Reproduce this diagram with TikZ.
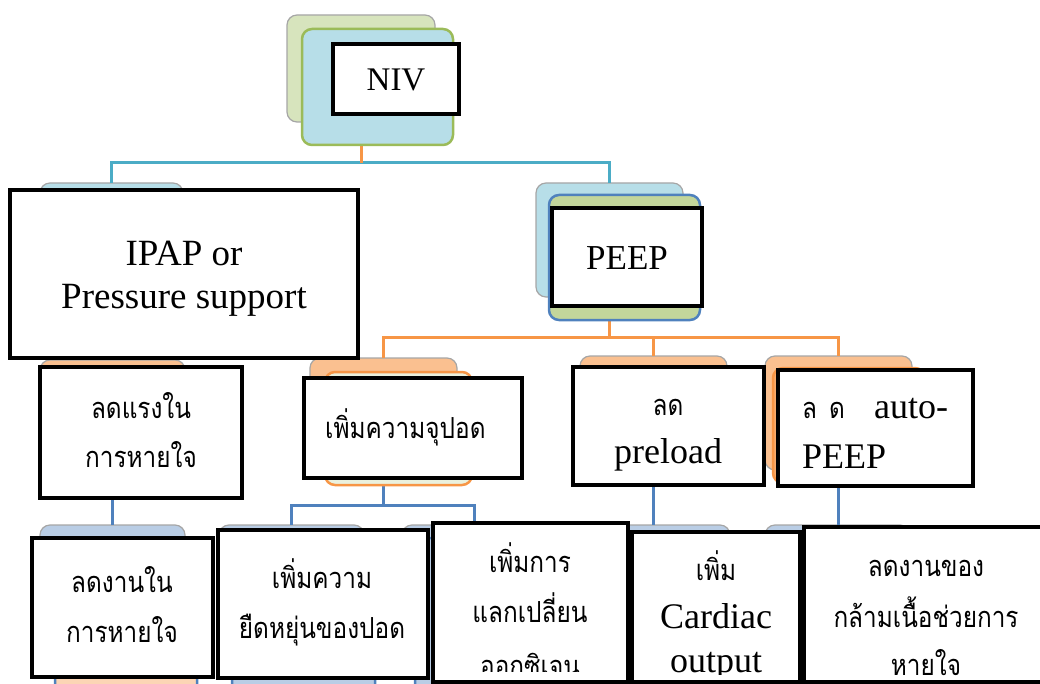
\documentclass[tikz,border=0pt]{standalone}
\usepackage{fontspec}
\setmainfont{Liberation Serif}
\newfontfamily\thai[Script=Thai, FakeStretch=0.84]{Loma}
\definecolor{grayline}{HTML}{A6A6A6}
\definecolor{nivback}{HTML}{D7E4BD}
\definecolor{ltblue}{HTML}{B7DEE8}
\definecolor{grnline}{HTML}{9BBB59}
\definecolor{busblue}{HTML}{4BACC6}
\definecolor{orng}{HTML}{F79646}
\definecolor{peach}{HTML}{FAC090}
\definecolor{paleg}{HTML}{EBF1DE}
\definecolor{oliveg}{HTML}{C3D69B}
\definecolor{steel}{HTML}{4F81BD}
\definecolor{lblue3}{HTML}{B9CDE5}
\definecolor{skin}{HTML}{FCD5B5}
\newcommand\mkshape[6]{\node[#2, minimum width={#5-#3}, minimum height={#6-#4}] (#1) at ({(#3+#5)/2},{(#4+#6)/2}) {};}
\tikzset{
  shp/.style={inner sep=0pt, outer sep=0pt, rectangle},
  backshape/.style={shp, draw=grayline, line width=1.2pt, rounded corners=10pt},
  frontshape/.style={shp, line width=2.5pt, rounded corners=10pt},
  textbox/.style={shp, draw=black, fill=white, line width=4.5pt},
  lat/.style={font=\fontsize{36}{40}\selectfont, inner sep=0pt, anchor=base},
  th/.style={font=\thai\fontsize{29}{34}\selectfont, inner sep=0pt, anchor=base},
  conn/.style={line width=3pt},
}
\begin{document}
\begin{tikzpicture}[x=1pt,y=-1pt]
\useasboundingbox (0,0) rectangle (1040,684);
\clip (0,0) rectangle (1040,684);
% ---------- back shapes
\mkshape{nivB}{backshape, fill=nivback}{287}{15}{435}{122}
\mkshape{ipB}{backshape, fill=ltblue}{40}{183}{183}{297}
\mkshape{peB}{backshape, fill=ltblue}{536}{183}{683}{297}
\mkshape{aB}{backshape, fill=peach}{40}{360}{185}{470}
\mkshape{bB}{backshape, fill=peach}{310}{358}{457}{470}
\mkshape{cB}{backshape, fill=peach}{580}{356}{727}{470}
\mkshape{dB}{backshape, fill=peach}{765}{356}{912}{470}
\mkshape{eB}{backshape, fill=lblue3}{40}{525}{185}{640}
\mkshape{fB}{backshape, fill=lblue3}{219}{525}{364}{640}
\mkshape{gB}{backshape, fill=lblue3}{402}{525}{547}{640}
\mkshape{hB}{backshape, fill=lblue3}{585}{525}{730}{640}
\mkshape{iB}{backshape, fill=lblue3}{765}{525}{910}{640}
% ---------- connectors
\draw[conn, busblue] (ipB.north) |- (peB.north |- 0,163) -- (peB.north);
\draw[conn, orng] (nivB.south) -- (nivB.south |- 0,163);
\draw[conn, orng] (peB.south) -- (peB.south |- 0,337);
\draw[conn, orng] (bB.north) |- (dB.north |- 0,337) -- (dB.north);
\draw[conn, orng] (cB.north |- 0,337) -- (cB.north);
\draw[conn, steel] (aB.south) -- (aB.south |- eB.north);
\draw[conn, steel] (bB.south) -- (bB.south |- 0,505);
\draw[conn, steel] (fB.north) |- (gB.north |- 0,505) -- (gB.north);
\draw[conn, steel] (cB.south) -- (cB.south |- hB.north);
\draw[conn, steel] (dB.south) -- (dB.south |- iB.north);
% ---------- front shapes
\mkshape{nivF}{frontshape, fill=ltblue, draw=grnline}{302}{29}{453}{145}
\mkshape{peF}{frontshape, fill=oliveg, draw=steel}{549}{195}{700}{320}
\mkshape{bF}{frontshape, fill=paleg, draw=orng}{325}{372}{472}{485}
\mkshape{dF}{frontshape, fill=orng!80!white, draw=orng}{773}{368}{925}{483}
\mkshape{eF}{frontshape, fill=skin, draw=steel}{55}{538}{197}{720}
\mkshape{fF}{frontshape, fill=lblue3, draw=steel}{232}{538}{375}{720}
\mkshape{gF}{frontshape, fill=lblue3, draw=steel}{415}{538}{560}{720}
\mkshape{hF}{frontshape, fill=lblue3, draw=steel}{598}{538}{743}{720}
% ---------- text boxes
\mkshape{nivT}{textbox}{333}{44}{459}{114}
\mkshape{ipT}{textbox}{10}{190}{358}{358}
\mkshape{peT}{textbox}{552}{208}{702}{306}
\mkshape{aT}{textbox}{40}{367}{242}{498}
\mkshape{bT}{textbox}{304}{378}{522}{478}
\mkshape{cT}{textbox}{573}{367}{764}{485}
\mkshape{dT}{textbox}{778}{370}{973}{486}
\mkshape{eT}{textbox}{32}{538}{213}{677}
\mkshape{fT}{textbox}{218}{530}{428}{678}
\mkshape{gT}{textbox}{433}{523}{628}{682}
\mkshape{hT}{textbox}{632}{532}{800}{682}
\mkshape{iT}{textbox}{804}{527}{1050}{682}
% ---------- texts
\node[lat, font=\fontsize{33}{36}\selectfont] (tniv) at (396,91) {NIV};
\node[lat, font=\fontsize{37}{40}\selectfont] (tip1) at (184,266) {IPAP or};
\node[lat, font=\fontsize{37}{40}\selectfont] (tip2) at (184,308) {Pressure support};
\node[lat, font=\fontsize{35}{40}\selectfont] (tpe) at (627,270) {PEEP};
\node[th] (ta1) at (141,418) {ลดแรงใน};
\node[th] (ta2) at (141,467) {การหายใจ};
\node[th, anchor=base west] (tb1) at (325,438) {เพิ่มความจุปอด};
\node[th] (tc1) at (668,415) {ลด};
\node[lat] (tc2) at (668,463) {preload};
\node[lat, anchor=base west] (td1) at (802,418) {\makebox[146pt][l]{{\thai\fontsize{29}{34}\selectfont ล\hspace{12pt}ด}\hfill auto-}};
\node[lat, anchor=base west] (td2) at (802,468) {PEEP};
\node[th] (te1) at (122,592) {ลดงานใน};
\node[th] (te2) at (122,642) {การหายใจ};
\node[th] (tf1) at (322,588) {เพิ่มความ};
\node[th] (tf2) at (322,638) {ยืดหยุ่นของปอด};
\begin{scope}
\clip (436,526) rectangle (625,671);
\node[th] (tg1) at (530,572) {เพิ่มการ};
\node[th] (tg2) at (530,622) {แลกเปลี่ยน};
\node[th] (tg3) at (530,676) {ออกซิเจน};
\end{scope}
\begin{scope}
\clip (635,535) rectangle (797,674);
\node[th] (th1) at (716,580) {เพิ่ม};
\node[lat] (th2) at (716,628) {Cardiac};
\node[lat] (th3) at (716,672) {output};
\end{scope}
\node[th] (ti1) at (926,576) {ลดงานของ};
\node[th] (ti2) at (926,627) {กล้ามเนื้อช่วยการ};
\node[th] (ti3) at (926,675) {หายใจ};
\end{tikzpicture}
\end{document}
